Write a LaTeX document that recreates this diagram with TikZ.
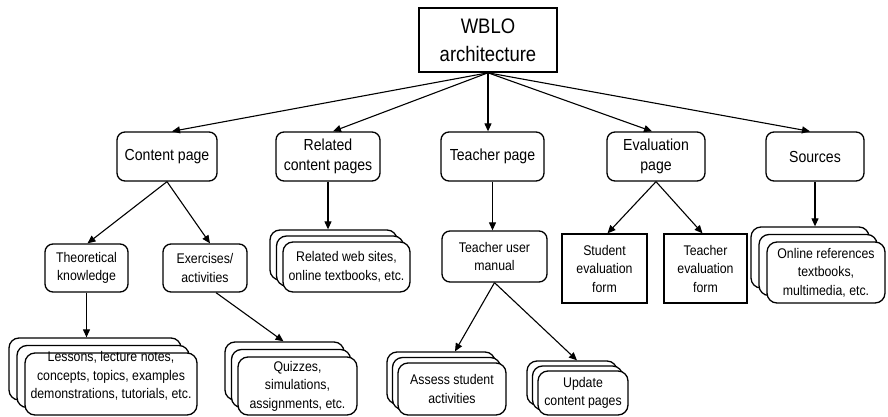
\documentclass[tikz,border=0pt]{standalone}
\usepackage{fontspec}
\setmainfont{Liberation Sans}[FakeStretch=0.88]
\usetikzlibrary{arrows.meta}

\tikzset{
  box/.style={draw, line width=1.3pt, fill=white, inner sep=0pt, align=center},
  rbox/.style={box, rounded corners=8pt},
  sbox/.style={box, rounded corners=10pt},
  sz/.style 2 args={minimum width=#1, minimum height=#2},
  titlefont/.style={font=\fontsize{21}{28}\selectfont},
  topfont/.style={font=\fontsize{16}{20}\selectfont},
  lowfont/.style={font=\fontsize{14}{18.5}\selectfont},
  arr/.style={-{Triangle[length=8pt,width=7pt]}, line width=1.1pt},
}

\begin{document}
\begin{tikzpicture}[x=1pt, y=-1pt]
\useasboundingbox (0,0) rectangle (888,417);

% root
\node[box, line width=1.6pt, sz={138pt}{64pt}, titlefont] (wblo) at (488,40) {WBLO\\architecture};

% first level
\node[rbox, sz={100pt}{49pt}, topfont] (content) at (167,156.5) {Content page};
\node[rbox, sz={104pt}{49pt}, topfont] (related) at (328,156.5) {Related\\content pages};
\node[rbox, sz={103pt}{49pt}, topfont] (teacher) at (492.5,156.5) {Teacher page};
\node[rbox, sz={98pt}{49pt}, topfont] (evalp) at (656,156.5) {Evaluation\\page};
\node[rbox, sz={98pt}{49pt}, topfont] (sources) at (815,156.5) {Sources};

% second level
\node[rbox, sz={83pt}{48pt}, lowfont] (theo) at (86.5,268) {Theoretical\\knowledge};
\node[rbox, sz={84pt}{48pt}, lowfont] (exer) at (205,268) {Exercises/\\activities};
\node[rbox, sz={105pt}{51pt}, lowfont] (tum) at (494.5,256.5) {Teacher user\\manual};
\node[box, sz={85pt}{69pt}, lowfont] (sef) at (604.5,268.5) {Student\\evaluation\\form};
\node[box, sz={83pt}{69pt}, lowfont] (tef) at (705.5,268.5) {Teacher\\evaluation\\form};

% stacked boxes: lessons
\node[sbox, sz={172pt}{62pt}] (les3) at (95,369) {};
\node[sbox, sz={172pt}{62pt}] (les2) at (103,376.5) {};
\node[sbox, sz={172pt}{62pt}] (les1) at (111,384) {};
\node[lowfont, align=center, inner sep=0pt] (lestext) at (111,376)
  {Lessons, lecture notes,\\concepts, topics, examples\\demonstrations, tutorials, etc.};

% stacked boxes: quizzes
\node[sbox, sz={119pt}{58pt}] (quiz3) at (284.5,371) {};
\node[sbox, sz={119pt}{58pt}] (quiz2) at (291,378.5) {};
\node[sbox, sz={119pt}{58pt}, lowfont] (quiz1) at (297.5,386) {Quizzes,\\simulations,\\assignments, etc.};

% stacked boxes: related web sites
\node[sbox, sz={127pt}{50pt}] (rws3) at (333.5,255) {};
\node[sbox, sz={127pt}{50pt}] (rws2) at (340,261) {};
\node[sbox, sz={127pt}{50pt}, lowfont] (rws1) at (346.5,267) {Related web sites,\\online textbooks, etc.};

% stacked boxes: assess student activities
\node[sbox, sz={108pt}{52pt}] (as3) at (441,378) {};
\node[sbox, sz={108pt}{52pt}] (as2) at (446.5,383.5) {};
\node[sbox, sz={108pt}{52pt}, lowfont] (as1) at (452,389) {Assess student\\activities};

% stacked boxes: update content pages
\node[sbox, sz={90pt}{44pt}] (up3) at (572,383) {};
\node[sbox, sz={90pt}{44pt}] (up2) at (577.5,388) {};
\node[sbox, sz={90pt}{44pt}, lowfont] (up1) at (583,393) {Update\\content pages};

% stacked boxes: online references
\node[sbox, sz={118pt}{61pt}] (on3) at (810,257.5) {};
\node[sbox, sz={118pt}{61pt}] (on2) at (818,265) {};
\node[sbox, sz={118pt}{61pt}, lowfont] (on1) at (826,272.5) {Online references\\textbooks,\\multimedia, etc.};

% connectors from the root
\draw[arr] (wblo.south) -- ([xshift=5pt]content.north);
\draw[arr] (wblo.south) -- ([xshift=5pt]related.north);
\draw[arr] (wblo.south) -- (wblo.south |- teacher.north);
\draw[arr] (wblo.south) -- ([xshift=-4pt]evalp.north);
\draw[arr] (wblo.south) -- ([xshift=-5pt]sources.north);

% connectors below the first level
\draw[arr] (content.south) -- ([xshift=1pt]theo.north);
\draw[arr] (content.south) -- ([xshift=5pt]exer.north);
\draw[arr] (related.south) -- (related.south |- rws3.north);
\draw[arr] (teacher.south) -- (teacher.south |- tum.north);
\draw[arr] (evalp.south) -- ([xshift=3pt]sef.north);
\draw[arr] (evalp.south) -- ([xshift=-3pt]tef.north);
\draw[arr] (sources.south) -- (sources.south |- on3.north);

% connectors to the stacked boxes
\draw[arr] (theo.south) -- (theo.south |- les3.north);
\draw[arr] ([xshift=11pt]exer.south) -- ([xshift=-1pt]quiz3.north);
\draw[arr] (tum.south) -- ([xshift=14pt]as3.north);
\draw[arr] (tum.south) -- ([xshift=5pt]up3.north);
\end{tikzpicture}
\end{document}
